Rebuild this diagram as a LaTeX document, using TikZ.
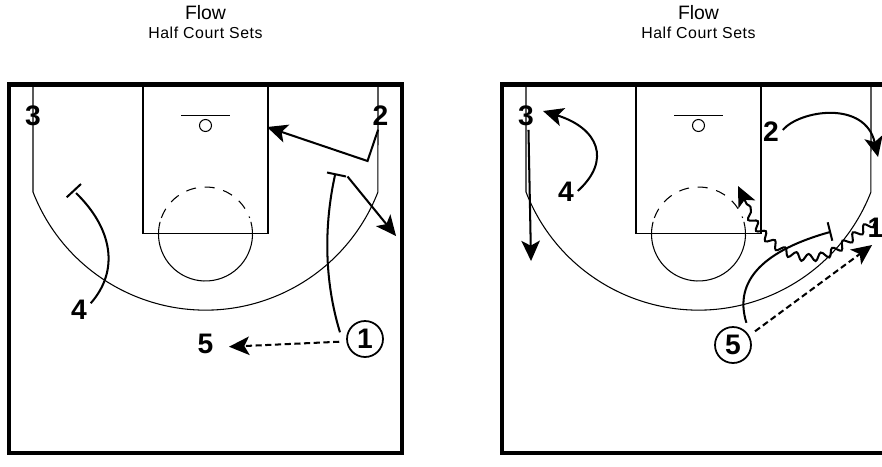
\documentclass[tikz,border=0pt]{standalone}
\usepackage{fontspec}
\setmainfont{Liberation Sans}
\usepackage{xcolor}
\usetikzlibrary{arrows.meta,decorations.pathmorphing}

\tikzset{
courtline/.style={line width=0.6pt},
run/.style={line width=1.15pt,-{Stealth[length=11.5pt,width=10.5pt,inset=2.8pt]}},
pass/.style={run,dash pattern=on 3.5pt off 2pt},
setscreen/.style={line width=1.15pt},
dribble/.style={run,decorate,decoration={snake,amplitude=2.1pt,segment length=7.5pt,post length=10pt}},
num/.style={font=\bfseries\fontsize{16}{16}\selectfont,inner sep=2pt},
ringnum/.style={num,circle,draw,line width=1pt,inner sep=0pt,minimum size=20.4pt,outer sep=4.5pt},
}

\begin{document}
\begin{tikzpicture}[x=1pt,y=1pt,xscale=0.567,yscale=-0.567]
\useasboundingbox(0,0)rectangle(882,467);
% both courts are the same, only shifted
\foreach \dx in {0,493}{
\begin{scope}[shift={(\dx,0)}]
\node[font=\fontsize{11}{11}\selectfont](title\dx)at(205.5,13){Flow};
\node[font=\fontsize{9}{9}\selectfont](sub\dx)at(205.5,33){\addfontfeature{LetterSpace=3.5}Half Court Sets};
\draw[line width=2.3pt](9,84.5)rectangle(402,453);
\draw[courtline](143,84.5)--(143,233.5)--(268,233.5)--(268,84.5);
\draw[courtline](181,115.7)--(230,115.7);
\draw[courtline](205.5,125.5)circle(6);
\draw[courtline](158.5,233.5)--(252.5,233.5);
\draw[courtline](205.5,234)+(-15:47)arc(-15:195:47);
\draw[courtline,dash pattern=on 5.7pt off 5pt](205.5,234)+(200:47)arc(200:340:47);
% the three point line
\draw[courtline](33,84.5)--(33,192)arc(158.8:21.2:185)--(378,84.5);
\end{scope}
}
% left court
\node[num](threeA)at(33,116){3};
\node[num](twoA)at(380.5,116){2};
\node[num](fourA)at(79,310){4};
\node[num](fiveA)at(205.5,344){5};
\node[ringnum](oneA)at(365,339){1};
\coordinate(elbowA)at(367.5,161);
\coordinate(rimA)at(267,127);
\coordinate(screenA)at(335,175);
\coordinate(screenB)at(76,193);
\coordinate(cornerA)at(396,236);
\coordinate(passA)at(229,346.7);
\draw[run](twoA.260)--(elbowA)--(rimA);
\draw[pass](oneA.186)--(passA);
\draw[setscreen](oneA.165)..controls(324,280)and(324,225)..(screenA);
\draw[setscreen](327,172.5)--(346,176.5);
\draw[run](347.5,176.5)--(cornerA);
\draw[setscreen](fourA.30)..controls(120,270)and(112,228)..(screenB);
\draw[setscreen](66.7,197.3)--(81,184);
% right court
\node[num](threeB)at(526,116){3};
\node[num](fourB)at(566,192){4};
\node[num](twoB)at(771,132){2};
\node[num](oneB)at(875.5,228){1};
\node[ringnum](fiveB)at(733,345){5};
\coordinate(cornerB)at(531,261);
\coordinate(wingB)at(543,111);
\coordinate(wingC)at(878,157);
\coordinate(screenC)at(830,232);
\coordinate(passB)at(872,245);
\coordinate(elbowB)at(738,186);
\coordinate(dribbleB)at(875,222);
\draw[run](threeB.280)--(cornerB);
\draw[run](fourB.5)..controls(612,160)and(598,128)..(wingB);
\draw[run](twoB.10)..controls(800,110)and(865,100)..(wingC);
\draw[setscreen](fiveB.59)..controls(733,280)and(765,250)..(screenC);
\draw[setscreen](827.7,222.3)--(832.3,240.7);
\draw[pass](fiveB.32)--(passB);
\draw[dribble](dribbleB)..controls(850,236)and(840,256)..(812,256)..controls(780,256)and(755,225)..(elbowB);
\end{tikzpicture}
\end{document}
